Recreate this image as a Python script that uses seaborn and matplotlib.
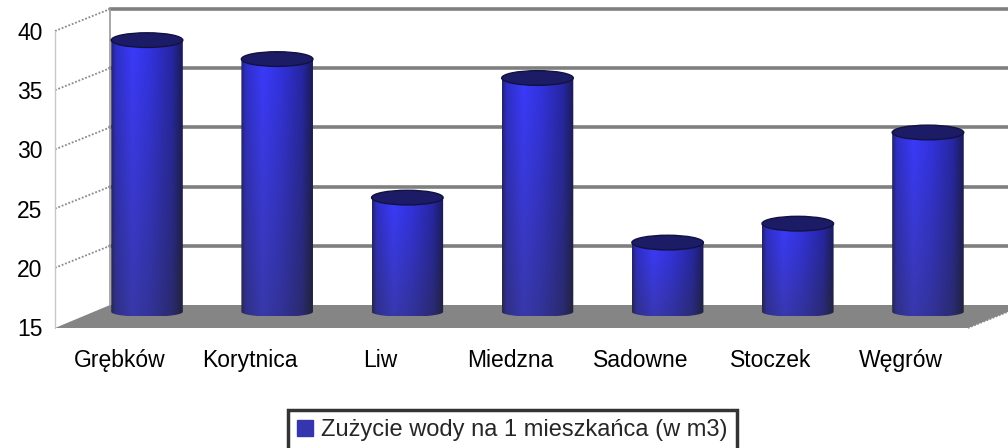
import numpy as np
import pandas as pd
import matplotlib
matplotlib.use("Agg")
import matplotlib.pyplot as plt
import seaborn as sns
from matplotlib.patches import Ellipse, PathPatch, Polygon, Patch
from matplotlib.path import Path
from matplotlib.transforms import Affine2D, ScaledTranslation
from matplotlib.lines import Line2D
from matplotlib.colors import to_rgb

categories = ["Grębków", "Korytnica", "Liw", "Miedzna", "Sadowne", "Stoczek", "Węgrów"]
values = [38.3, 36.7, 25.0, 35.1, 21.2, 22.8, 30.5]
y_ticks = [15, 20, 25, 30, 35, 40]
series_name = "Zużycie wody na 1 mieszkańca (w m3)"

sns.set_theme(style="white")
plt.rcParams['font.family'] = ['Liberation Sans', 'DejaVu Sans']

W, H = 1008, 448
fig = plt.figure(figsize=(W / 100, H / 100), dpi=100)
fig.patch.set_facecolor("white")


def fx(px):
    return px / W


def fy(py):
    return 1 - py / H


ax = fig.add_axes([fx(55), fy(316), fx(1008) - fx(55), fy(20) - fy(316)])
df = pd.DataFrame({"gmina": categories, "zuzycie": values})
sns.barplot(data=df, x="gmina", y="zuzycie", color="#3333cc", width=0.55,
            ax=ax, zorder=3, saturation=1)
ax.set_xlim(-0.707, 6.615)
ax.set_ylim(y_ticks[0], y_ticks[-1])
ax.set_yticks(y_ticks)
ax.set_xlabel("")
ax.set_ylabel("")
ax.patch.set_alpha(0)
for s in ax.spines.values():
    s.set_visible(False)
ax.tick_params(axis="both", length=0, labelsize=16.5, colors="black")
ax.tick_params(axis="y", pad=9)
ax.tick_params(axis="x", pad=24)
ax.grid(False)

for lab in ax.get_yticklabels():
    lab.set_transform(lab.get_transform() + ScaledTranslation(0, -11 / 100, fig.dpi_scale_trans))
for lab in ax.get_xticklabels():
    lab.set_transform(lab.get_transform() + ScaledTranslation(-27 / 100, 0, fig.dpi_scale_trans))

pix = Affine2D().scale(1 / W, -1 / H).translate(0, 1) + fig.transFigure


def mid_py(v):
    return H - ax.transData.transform((0, v))[1]


depth = 11
# floor
yb = mid_py(y_ticks[0]) - depth
yf = mid_py(y_ticks[0]) + depth + 1
floor = Polygon([(55, yf), (110, yb), (1010, yb), (1010, yb + 6), (968, yf)],
                closed=True, transform=pix, facecolor="#858585", edgecolor="none",
                zorder=0.5, clip_on=False)
ax.add_patch(floor)

# back wall gridlines and side wall lines
for v in y_ticks[1:]:
    y_back = mid_py(v) - depth
    y_front = mid_py(v) + depth
    ax.add_line(Line2D([110, 1010], [y_back, y_back], transform=pix, color="#7f7f7f",
                       lw=2.6, zorder=0.6, clip_on=False))
    ax.add_line(Line2D([55, 110], [y_front, y_back], transform=pix, color="#8a8a8a",
                       lw=1.3, ls=(0, (1, 1)), zorder=0.6, clip_on=False))
ax.add_line(Line2D([110, 110], [mid_py(y_ticks[-1]) - depth, yb], transform=pix,
                   color="#9a9a9a", lw=1.2, zorder=0.6, clip_on=False))
ax.add_line(Line2D([55, 55], [mid_py(y_ticks[-1]) + depth, yf], transform=pix,
                   color="#c8c8c8", lw=1.0, zorder=0.6, clip_on=False))
ax.add_line(Line2D([968, 1010], [yf, yb + 6], transform=pix, color="#8a8a8a",
                   lw=1.2, ls=(0, (1, 1)), zorder=0.6, clip_on=False))

# cylinder gradient
nx, ny = 120, 120
stops_t = [0.0, 0.06, 0.3, 0.55, 0.85, 1.0]
stops_c = [to_rgb(c) for c in ["#22226a", "#2e2ec8", "#3a3afc", "#3232e0", "#2626a6", "#1a1a58"]]
t = np.linspace(0, 1, nx)
row = np.stack([np.interp(t, stops_t, [c[i] for c in stops_c]) for i in range(3)], axis=-1)
vert = np.linspace(1.0, 0.66, ny)[:, None, None]
grad = row[None, :, :] * vert
grad[..., 0] = grad[..., 0] + np.linspace(0, 0.07, ny)[:, None]
grad[..., 1] = grad[..., 1] + np.linspace(0, 0.07, ny)[:, None]
grad = np.clip(grad, 0, 1)

base = y_ticks[0]
eh_bot = 0.42
eh_top = 0.62
for p in list(ax.patches):
    if not hasattr(p, "get_height") or p is floor:
        continue
    x0 = p.get_x()
    w = p.get_width()
    h = p.get_height()
    if w <= 0 or h <= base:
        continue
    xc = x0 + w / 2
    p.set_visible(False)
    th = np.linspace(np.pi, 2 * np.pi, 40)
    arc = np.column_stack([xc + w / 2 * np.cos(th), base + 0.35 + eh_bot * np.sin(th)])
    verts = [(x0, h)] + [tuple(a) for a in arc] + [(x0 + w, h), (x0, h)]
    codes = [Path.MOVETO] + [Path.LINETO] * (len(verts) - 2) + [Path.CLOSEPOLY]
    clip = PathPatch(Path(verts, codes), transform=ax.transData, facecolor="none",
                     edgecolor="none")
    ax.add_patch(clip)
    im = ax.imshow(grad, extent=(x0, x0 + w, base - 1, h), aspect="auto",
                   origin="upper", zorder=3, interpolation="bilinear")
    im.set_clip_path(clip)
    top = Ellipse((xc, h), w, 2 * eh_top, facecolor="#1b1b66", edgecolor="#121240",
                  lw=1.0, zorder=4)
    ax.add_patch(top)

ax.set_xlim(-0.707, 6.615)
ax.set_ylim(y_ticks[0], y_ticks[-1])

handle = Patch(facecolor="#3535b0", edgecolor="#3535b0")
leg = fig.legend([handle], [series_name], loc="upper center",
                 bbox_to_anchor=(fx(512), fy(410)), fontsize=17, frameon=True,
                 fancybox=False, edgecolor="black", handlelength=0.7,
                 handleheight=0.7, handletextpad=0.3, borderpad=0.4,
                 borderaxespad=0)
leg.get_frame().set_linewidth(2.5)

fig.savefig("out.png", dpi=100, facecolor="white")
